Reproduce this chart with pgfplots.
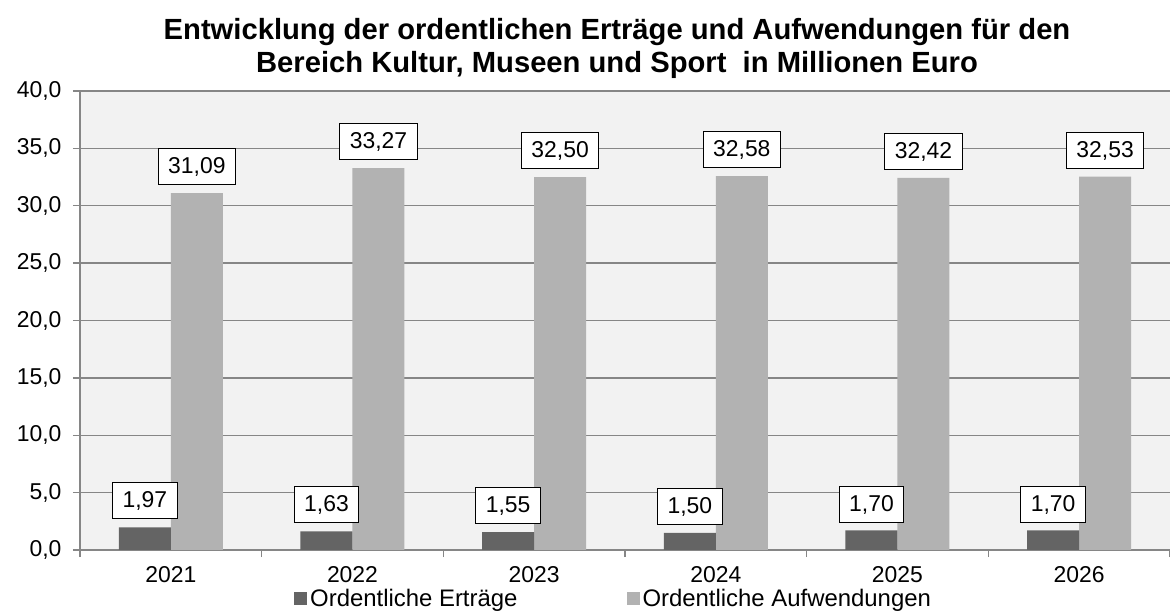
\documentclass[border=0pt]{standalone}
\usepackage{fontspec}
\setmainfont{Liberation Sans}
\usepackage{pgfplots}
\pgfplotsset{compat=1.18}
\definecolor{darkbar}{RGB}{100,100,100}
\definecolor{lightbar}{RGB}{178,178,178}
\definecolor{gridc}{RGB}{134,134,134}
\definecolor{bgc}{RGB}{242,242,242}
\begin{document}
\begin{tikzpicture}
\useasboundingbox (0,0) rectangle (1170bp,612bp);
\node[font=\fontsize{29.3}{33}\selectfont\bfseries, anchor=base, inner sep=0pt] at (617bp,572bp) {Entwicklung der ordentlichen Erträge und Aufwendungen für den};
\node[font=\fontsize{29.3}{33}\selectfont\bfseries, anchor=base, inner sep=0pt] at (617bp,539bp) {Bereich Kultur, Museen und Sport\ \ in Millionen Euro};
\begin{axis}[
  at={(80bp,62bp)}, anchor=south west,
  scale only axis, width=1090bp, height=459bp,
  ybar=0pt, bar width=52bp,
  xmin=-0.5, xmax=5.5, ymin=0, ymax=40,
  xtick={0,...,5}, xticklabels={2021,2022,2023,2024,2025,2026},
  minor xtick={-0.5,0.5,...,5.5},
  ytick={0,5,...,40},
  axis lines*=left,
  axis line style={gridc, line width=1.3bp},
  ymajorgrids, grid style={gridc, line width=1.3bp},
  tick align=outside,
  major tick length=7bp, minor tick length=7bp,
  every tick/.style={gridc, line width=1.3bp},
  major x tick style={draw=none},
  axis background/.style={fill=bgc},
  ticklabel style={font=\fontsize{23}{27}\selectfont},
  xticklabel style={inner ysep=0pt, yshift=-9bp},
  yticklabel style={xshift=-8bp},
  /pgf/number format/assume math mode=true,
  yticklabel style={/pgf/number format/.cd, fixed, fixed zerofill, precision=1, use comma},
  nodes near coords={\pgfmathprintnumber[fixed,fixed zerofill,precision=2,use comma,assume math mode=true]{\pgfplotspointmeta}},
  every node near coord/.append style={draw=black, line width=0.9bp, fill=white, text=black,
     font=\fontsize{23}{27}\selectfont, inner xsep=10bp, inner ysep=8bp,
     text height=17bp, text depth=3bp, anchor=south, yshift=8bp},
  legend style={draw=none, fill=none, legend columns=2, at={(0.49,-0.106)}, anchor=center,
     font=\fontsize{24}{28}\selectfont,
     /tikz/every even column/.append style={column sep=106bp},
     nodes={inner xsep=3bp, inner ysep=0pt}},
  legend image code/.code={\fill[#1] (0bp,-6.5bp) rectangle (13bp,6.5bp);},
]
\addplot[fill=lightbar, draw=none, bar shift=26bp, forget plot] coordinates {(0,31.09) (1,33.27) (2,32.50) (3,32.58) (4,32.42) (5,32.53)};
\addplot[fill=darkbar, draw=none, bar shift=-26bp] coordinates {(0,1.97) (1,1.63) (2,1.55) (3,1.50) (4,1.70) (5,1.70)};
\addlegendentry{Ordentliche Erträge}
\addlegendimage{fill=lightbar, draw=none}
\addlegendentry{Ordentliche Aufwendungen}
\end{axis}
\end{tikzpicture}
\end{document}
